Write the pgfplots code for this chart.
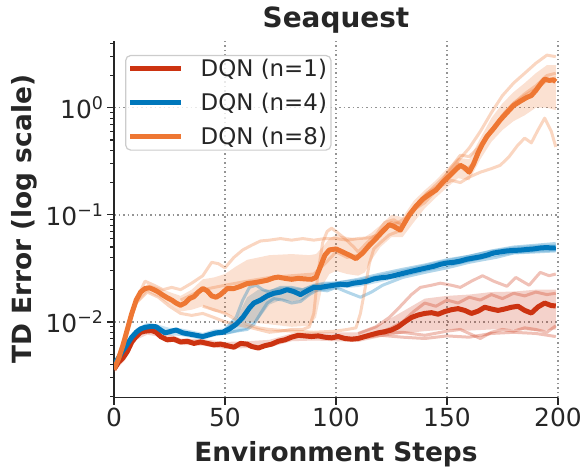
\documentclass[border=0pt]{standalone}
\usepackage{pgfplots}
\pgfplotsset{compat=1.18}
\usepackage{pgfplotstable}
\usepgfplotslibrary{fillbetween}
\usepackage{fontspec}
\setmainfont{DejaVu Sans}

\definecolor{tred}{HTML}{CC3311}
\definecolor{tblue}{HTML}{0077BB}
\definecolor{torange}{HTML}{EE7733}
\definecolor{txt}{HTML}{262626}

\tikzset{
  seed/.style={line width=3bp, opacity=0.3, line join=round},
  mean/.style={line width=5bp, line join=round},
  band/.style={draw=none, fill opacity=0.22},
}

% shaded bands: step, lower, upper
\pgfplotstableread{
x lo hi
0 0.0034 0.0039
5 0.0044 0.0050
10 0.0068 0.0078
15 0.0076 0.0088
20 0.0073 0.0085
30 0.0061 0.0070
40 0.0060 0.0069
50 0.0056 0.0065
60 0.0057 0.0066
70 0.0058 0.0068
80 0.0066 0.0078
90 0.0067 0.0080
100 0.0066 0.0080
110 0.0065 0.0080
120 0.0072 0.0095
130 0.0078 0.0125
140 0.0082 0.0165
150 0.0085 0.0175
160 0.0083 0.0180
170 0.0085 0.0190
180 0.0085 0.0192
190 0.0082 0.0200
199 0.0085 0.0200
}\redband

\pgfplotstableread{
x lo hi
0 0.0037 0.0043
5 0.0053 0.0063
10 0.0074 0.0087
15 0.0083 0.0098
20 0.0080 0.0094
25 0.0075 0.0088
30 0.0074 0.0087
35 0.0071 0.0083
40 0.0068 0.0079
45 0.0073 0.0085
50 0.0076 0.0087
55 0.0080 0.0105
60 0.0085 0.0170
65 0.0105 0.0200
70 0.0145 0.0200
75 0.0160 0.0210
80 0.0155 0.0210
85 0.0160 0.0205
90 0.0190 0.0225
95 0.0195 0.0232
100 0.0203 0.0240
110 0.0212 0.0252
120 0.0235 0.0280
130 0.0262 0.0310
140 0.0293 0.0345
150 0.0325 0.0385
160 0.0360 0.0425
170 0.0400 0.0470
180 0.0430 0.0505
190 0.0445 0.0525
199 0.0455 0.0530
}\blueband

\pgfplotstableread{
x lo hi
0 0.0034 0.0038
5 0.0068 0.0080
10 0.0145 0.0175
15 0.0190 0.0225
20 0.0170 0.0210
25 0.0145 0.0190
30 0.0125 0.0175
35 0.0130 0.0200
40 0.0140 0.0250
45 0.0125 0.0260
50 0.0120 0.0280
55 0.0110 0.0330
60 0.0100 0.0380
70 0.0095 0.0420
80 0.0090 0.0430
88 0.0092 0.0420
91 0.0110 0.0430
94 0.0220 0.0500
97 0.0280 0.0600
100 0.0300 0.0650
105 0.0280 0.0620
110 0.0270 0.0600
113 0.0290 0.0620
116 0.0380 0.0680
120 0.0500 0.0800
125 0.0620 0.1000
130 0.0620 0.0950
135 0.0850 0.1350
140 0.1150 0.1700
145 0.1450 0.2100
150 0.1800 0.2700
155 0.2200 0.3400
160 0.2100 0.3300
165 0.3300 0.5200
170 0.4800 0.8000
175 0.6200 1.1000
180 0.7500 1.4000
185 0.8500 1.7000
190 1.0000 2.1000
195 1.0000 2.5000
199 0.9500 2.5000
}\orangeband

\begin{document}
\begin{tikzpicture}
\begin{axis}[
  at={(114bp,69.3bp)}, anchor=south west,
  scale only axis, width=444bp, height=356.7bp,
  xmin=0, xmax=200, ymin=0.00196, ymax=4.2,
  ymode=log,
  axis x line*=bottom, axis y line*=left,
  axis line style={-, line width=1.2bp, txt},
  xtick={0,50,100,150,200},
  ytick={0.01,0.1,1},
  yticklabels={10\textsuperscript{−2},10\textsuperscript{−1},10\textsuperscript{0}},
  minor ytick={0.002,0.003,0.004,0.005,0.006,0.007,0.008,0.009,
               0.02,0.03,0.04,0.05,0.06,0.07,0.08,0.09,
               0.2,0.3,0.4,0.5,0.6,0.7,0.8,0.9,2,3,4},
  tick align=outside,
  major tick length=7bp, minor tick length=4bp,
  tick style={txt, line width=1.2bp},
  grid=major,
  major grid style={dash pattern=on 1.5bp off 3bp, line width=1.5bp, black!42},
  ticklabel style={font=\fontsize{25}{30}\selectfont, text=txt},
  /pgf/number format/assume math mode=true,
  title={Seaquest},
  every axis title/.style={at={(axis description cs:0.5,1)}, anchor=base,
               yshift=13bp, inner sep=0pt,
               font=\bfseries\fontsize{28}{34}\selectfont, text=txt},
  xlabel={Environment Steps},
  every axis x label/.style={at={(axis description cs:0.5,0)}, anchor=base,
               yshift=-64bp, inner sep=0pt,
               font=\bfseries\fontsize{26.5}{32}\selectfont, text=txt},
  ylabel={TD Error (log scale)},
  every axis y label/.style={at={(axis description cs:-0.1847,0.5)}, rotate=90,
               anchor=base, inner sep=0pt,
               font=\bfseries\fontsize{26.5}{32}\selectfont, text=txt},
  legend style={at={(axis description cs:0.025,0.961)}, anchor=north west,
                draw=black!20, line width=1.2bp, rounded corners=5bp, fill=white,
                fill opacity=0.8, text opacity=1,
                font=\fontsize{23}{27}\selectfont, text=txt,
                inner xsep=2bp, inner ysep=2bp, row sep=11bp,
                /tikz/every odd column/.append style={column sep=15bp}},
  legend cell align=left,
  legend image code/.code={\draw[#1] (0bp,0bp) -- (51bp,0bp);},
]

% ---- bands
\addplot[name path=rlo, draw=none, forget plot] table[x=x, y=lo]{\redband};
\addplot[name path=rhi, draw=none, forget plot] table[x=x, y=hi]{\redband};
\addplot[tred, band, forget plot] fill between[of=rlo and rhi];
\addplot[name path=blo, draw=none, forget plot] table[x=x, y=lo]{\blueband};
\addplot[name path=bhi, draw=none, forget plot] table[x=x, y=hi]{\blueband};
\addplot[tblue, band, forget plot] fill between[of=blo and bhi];
\addplot[name path=olo, draw=none, forget plot] table[x=x, y=lo]{\orangeband};
\addplot[name path=ohi, draw=none, forget plot] table[x=x, y=hi]{\orangeband};
\addplot[torange, band, forget plot] fill between[of=olo and ohi];

% ---- individual seeds, n=1
\addplot[tred, seed, forget plot] coordinates {
(110,0.0078)(118,0.0090)(124,0.011)(129,0.014)(134,0.018)(138,0.021)(143,0.022)
(147,0.023)(152,0.022)(156,0.021)(161,0.024)(166,0.027)(171,0.024)(177,0.0215)
(181,0.026)(187,0.022)(192,0.029)(196,0.027)(199,0.028)};
\addplot[tred, seed, forget plot] coordinates {
(115,0.0075)(120,0.0080)(125,0.0088)(130,0.0100)(135,0.0125)(140,0.0150)(145,0.0140)
(150,0.0160)(155,0.0150)(160,0.0170)(165,0.0160)(170,0.0180)(175,0.0165)(180,0.0185)
(185,0.0175)(190,0.0190)(195,0.0180)(199,0.0185)};
\addplot[tred, seed, forget plot] coordinates {
(110,0.0072)(120,0.0078)(130,0.0080)(140,0.0075)(150,0.0082)(156,0.0085)(160,0.0078)
(165,0.0070)(170,0.0080)(175,0.0085)(180,0.0082)(185,0.0088)(190,0.0085)(195,0.0080)(199,0.0092)};
\addplot[tred, seed, forget plot] coordinates {
(110,0.0070)(120,0.0075)(130,0.0072)(140,0.0070)(150,0.0074)(160,0.0072)(170,0.0078)
(180,0.0080)(190,0.0078)(199,0.0073)};

% ---- individual seeds, n=4
\addplot[tblue, seed, forget plot] coordinates {
(50,0.0085)(55,0.011)(58,0.016)(61,0.021)(64,0.022)(67,0.020)(70,0.019)(75,0.021)
(80,0.021)(85,0.020)(90,0.022)(95,0.023)(100,0.023)(110,0.025)(120,0.028)(130,0.031)
(140,0.034)(150,0.038)(160,0.041)(170,0.046)(180,0.050)(190,0.052)(199,0.054)};
\addplot[tblue, seed, forget plot] coordinates {
(50,0.0078)(55,0.0082)(60,0.0085)(63,0.0095)(66,0.012)(69,0.015)(72,0.0165)(76,0.016)
(80,0.015)(84,0.0155)(88,0.018)(92,0.020)(96,0.0195)(100,0.021)(105,0.019)(111,0.017)
(116,0.019)(121,0.022)(130,0.026)(140,0.029)(150,0.032)(160,0.036)(166,0.038)(172,0.040)
(180,0.044)(190,0.045)(199,0.046)};

% ---- individual seeds, n=8
\addplot[torange, seed, forget plot] coordinates {
(10,0.016)(14,0.024)(18,0.022)(22,0.020)(26,0.021)(30,0.020)(35,0.023)(40,0.027)
(44,0.036)(47,0.035)(50,0.032)(54,0.040)(58,0.047)(62,0.052)(66,0.057)(70,0.058)
(75,0.060)(80,0.058)(85,0.060)(90,0.058)(95,0.060)(100,0.060)(105,0.058)(110,0.060)
(115,0.061)(120,0.066)(124,0.080)(128,0.085)(132,0.095)(136,0.120)(140,0.150)
(145,0.190)(150,0.240)(155,0.320)(160,0.420)(165,0.600)(170,0.900)(175,1.30)
(180,1.70)(185,2.10)(190,2.60)(195,3.10)(199,3.0)};
\addplot[torange, seed, forget plot] coordinates {
(0,0.0036)(5,0.0075)(10,0.015)(15,0.019)(20,0.017)(25,0.014)(30,0.012)(35,0.0115)
(40,0.012)(45,0.011)(50,0.010)(55,0.0095)(60,0.0090)(65,0.0085)(70,0.0080)(75,0.0082)
(80,0.0085)(85,0.0085)(88,0.009)(90,0.012)(92,0.030)(94,0.055)(96,0.070)(98,0.075)
(100,0.070)(104,0.060)(108,0.050)(110,0.045)(114,0.055)(118,0.065)(122,0.085)
(126,0.090)(130,0.080)(133,0.100)(137,0.130)(141,0.160)(145,0.180)(150,0.220)
(155,0.300)(158,0.260)(162,0.300)(166,0.450)(170,0.600)(175,0.850)(180,1.10)
(185,1.35)(190,1.60)(195,2.00)(199,2.10)};
\addplot[torange, seed, forget plot] coordinates {
(40,0.014)(45,0.013)(50,0.012)(55,0.0105)(60,0.0095)(65,0.0088)(70,0.0085)(80,0.0082)
(90,0.0080)(100,0.0082)(105,0.0085)(109,0.0088)(111,0.012)(113,0.020)(115,0.035)
(117,0.048)(120,0.055)(124,0.065)(128,0.070)(132,0.090)(136,0.115)(140,0.130)
(144,0.160)(148,0.210)(152,0.280)(156,0.360)(160,0.350)(164,0.420)(168,0.550)
(172,0.700)(176,0.900)(180,1.10)(185,1.30)(190,1.50)(195,1.80)(199,1.90)};
\addplot[torange, seed, forget plot] coordinates {
(30,0.016)(40,0.020)(50,0.022)(60,0.024)(70,0.026)(80,0.027)(90,0.028)(95,0.035)
(100,0.045)(105,0.040)(110,0.042)(115,0.050)(120,0.070)(125,0.085)(130,0.080)
(135,0.110)(140,0.140)(145,0.170)(148,0.190)(152,0.210)(156,0.200)(160,0.225)
(165,0.250)(170,0.270)(174,0.290)(178,0.350)(182,0.450)(185,0.520)(188,0.470)
(191,0.620)(194,0.800)(197,0.600)(199,0.430)};

% ---- means
\addplot[tred, mean] coordinates {
(0,0.0036)(2,0.0042)(4,0.0046)(6,0.0053)(8,0.0065)(10,0.0073)(12,0.0080)(14,0.0082)
(17,0.0083)(19,0.0080)(21,0.0073)(24,0.0068)(27,0.0069)(30,0.0065)(33,0.0066)
(36,0.0063)(39,0.0065)(42,0.0063)(45,0.0061)(48,0.0062)(51,0.0060)(54,0.0058)
(57,0.0063)(60,0.0062)(62,0.0059)(65,0.0057)(68,0.0060)(71,0.0062)(74,0.0066)
(77,0.0068)(80,0.0072)(83,0.0075)(86,0.0074)(89,0.0073)(92,0.0074)(95,0.0072)
(98,0.0071)(101,0.0073)(104,0.0070)(107,0.0069)(110,0.0070)(113,0.0073)(116,0.0076)
(119,0.0079)(122,0.0081)(125,0.0084)(128,0.0090)(131,0.0100)(134,0.0110)(137,0.0116)
(140,0.0120)(143,0.0122)(146,0.0118)(149,0.0125)(152,0.0130)(155,0.0133)(158,0.0128)
(161,0.0120)(164,0.0126)(167,0.0137)(170,0.0132)(173,0.0128)(176,0.0132)(179,0.0137)
(182,0.0140)(185,0.0128)(188,0.0121)(191,0.0138)(194,0.0150)(197,0.0142)(199,0.0141)};
\addlegendentry{DQN (n=1)}

\addplot[tblue, mean] coordinates {
(0,0.0040)(2,0.0046)(4,0.0054)(6,0.0062)(8,0.0072)(10,0.0080)(12,0.0086)(14,0.0089)
(17,0.0091)(19,0.0090)(21,0.0084)(23,0.0079)(25,0.0081)(28,0.0084)(31,0.0079)
(34,0.0077)(37,0.0075)(40,0.0073)(43,0.0076)(46,0.0079)(49,0.0080)(52,0.0086)
(55,0.0095)(58,0.0110)(61,0.0135)(63,0.0150)(66,0.0160)(69,0.0175)(72,0.0185)
(75,0.0190)(78,0.0200)(81,0.0192)(84,0.0180)(87,0.0195)(90,0.0210)(93,0.0210)
(96,0.0215)(99,0.0220)(102,0.0225)(105,0.0222)(108,0.0230)(111,0.0234)(114,0.0240)
(117,0.0252)(120,0.0258)(123,0.0262)(126,0.0270)(129,0.0280)(132,0.0290)(135,0.0300)
(138,0.0310)(141,0.0320)(144,0.0330)(147,0.0345)(150,0.0355)(153,0.0360)(156,0.0370)
(159,0.0385)(162,0.0395)(165,0.0405)(168,0.0420)(171,0.0440)(174,0.0450)(177,0.0460)
(180,0.0465)(183,0.0468)(186,0.0475)(189,0.0480)(192,0.0490)(195,0.0495)(197,0.0490)(199,0.0492)};
\addlegendentry{DQN (n=4)}

\addplot[torange, mean] coordinates {
(0,0.0036)(2,0.0045)(4,0.0060)(6,0.0085)(8,0.0120)(10,0.0160)(12,0.0190)(14,0.0205)
(16,0.0208)(18,0.0200)(20,0.0190)(22,0.0178)(24,0.0168)(26,0.0160)(28,0.0150)
(30,0.0143)(32,0.0150)(34,0.0165)(36,0.0172)(38,0.0190)(40,0.0205)(42,0.0195)
(44,0.0175)(46,0.0170)(48,0.0180)(51,0.0205)(54,0.0205)(57,0.0215)(60,0.0228)
(63,0.0232)(66,0.0238)(69,0.0245)(72,0.0258)(74,0.0262)(77,0.0255)(80,0.0250)
(83,0.0255)(86,0.0252)(89,0.0250)(91,0.0260)(93,0.0330)(95,0.0420)(97,0.0470)
(100,0.0480)(103,0.0450)(106,0.0420)(109,0.0390)(112,0.0440)(115,0.0520)(118,0.0600)
(121,0.0700)(124,0.0810)(126,0.0780)(129,0.0720)(131,0.0850)(133,0.1000)(136,0.1200)
(139,0.1400)(142,0.1550)(145,0.1700)(148,0.2000)(151,0.2300)(154,0.2650)(156,0.2900)
(158,0.2750)(160,0.2500)(162,0.3000)(164,0.3800)(166,0.4600)(168,0.5400)(171,0.6400)
(174,0.7700)(177,0.9000)(180,1.0500)(183,1.1500)(186,1.2500)(188,1.3000)(190,1.4500)
(192,1.6500)(194,1.8500)(196,1.8000)(198,1.8200)(199,1.7500)};
\addlegendentry{DQN (n=8)}

\end{axis}
\pgfresetboundingbox
\useasboundingbox (0,0) rectangle (587bp,467bp);
\end{tikzpicture}
\end{document}
